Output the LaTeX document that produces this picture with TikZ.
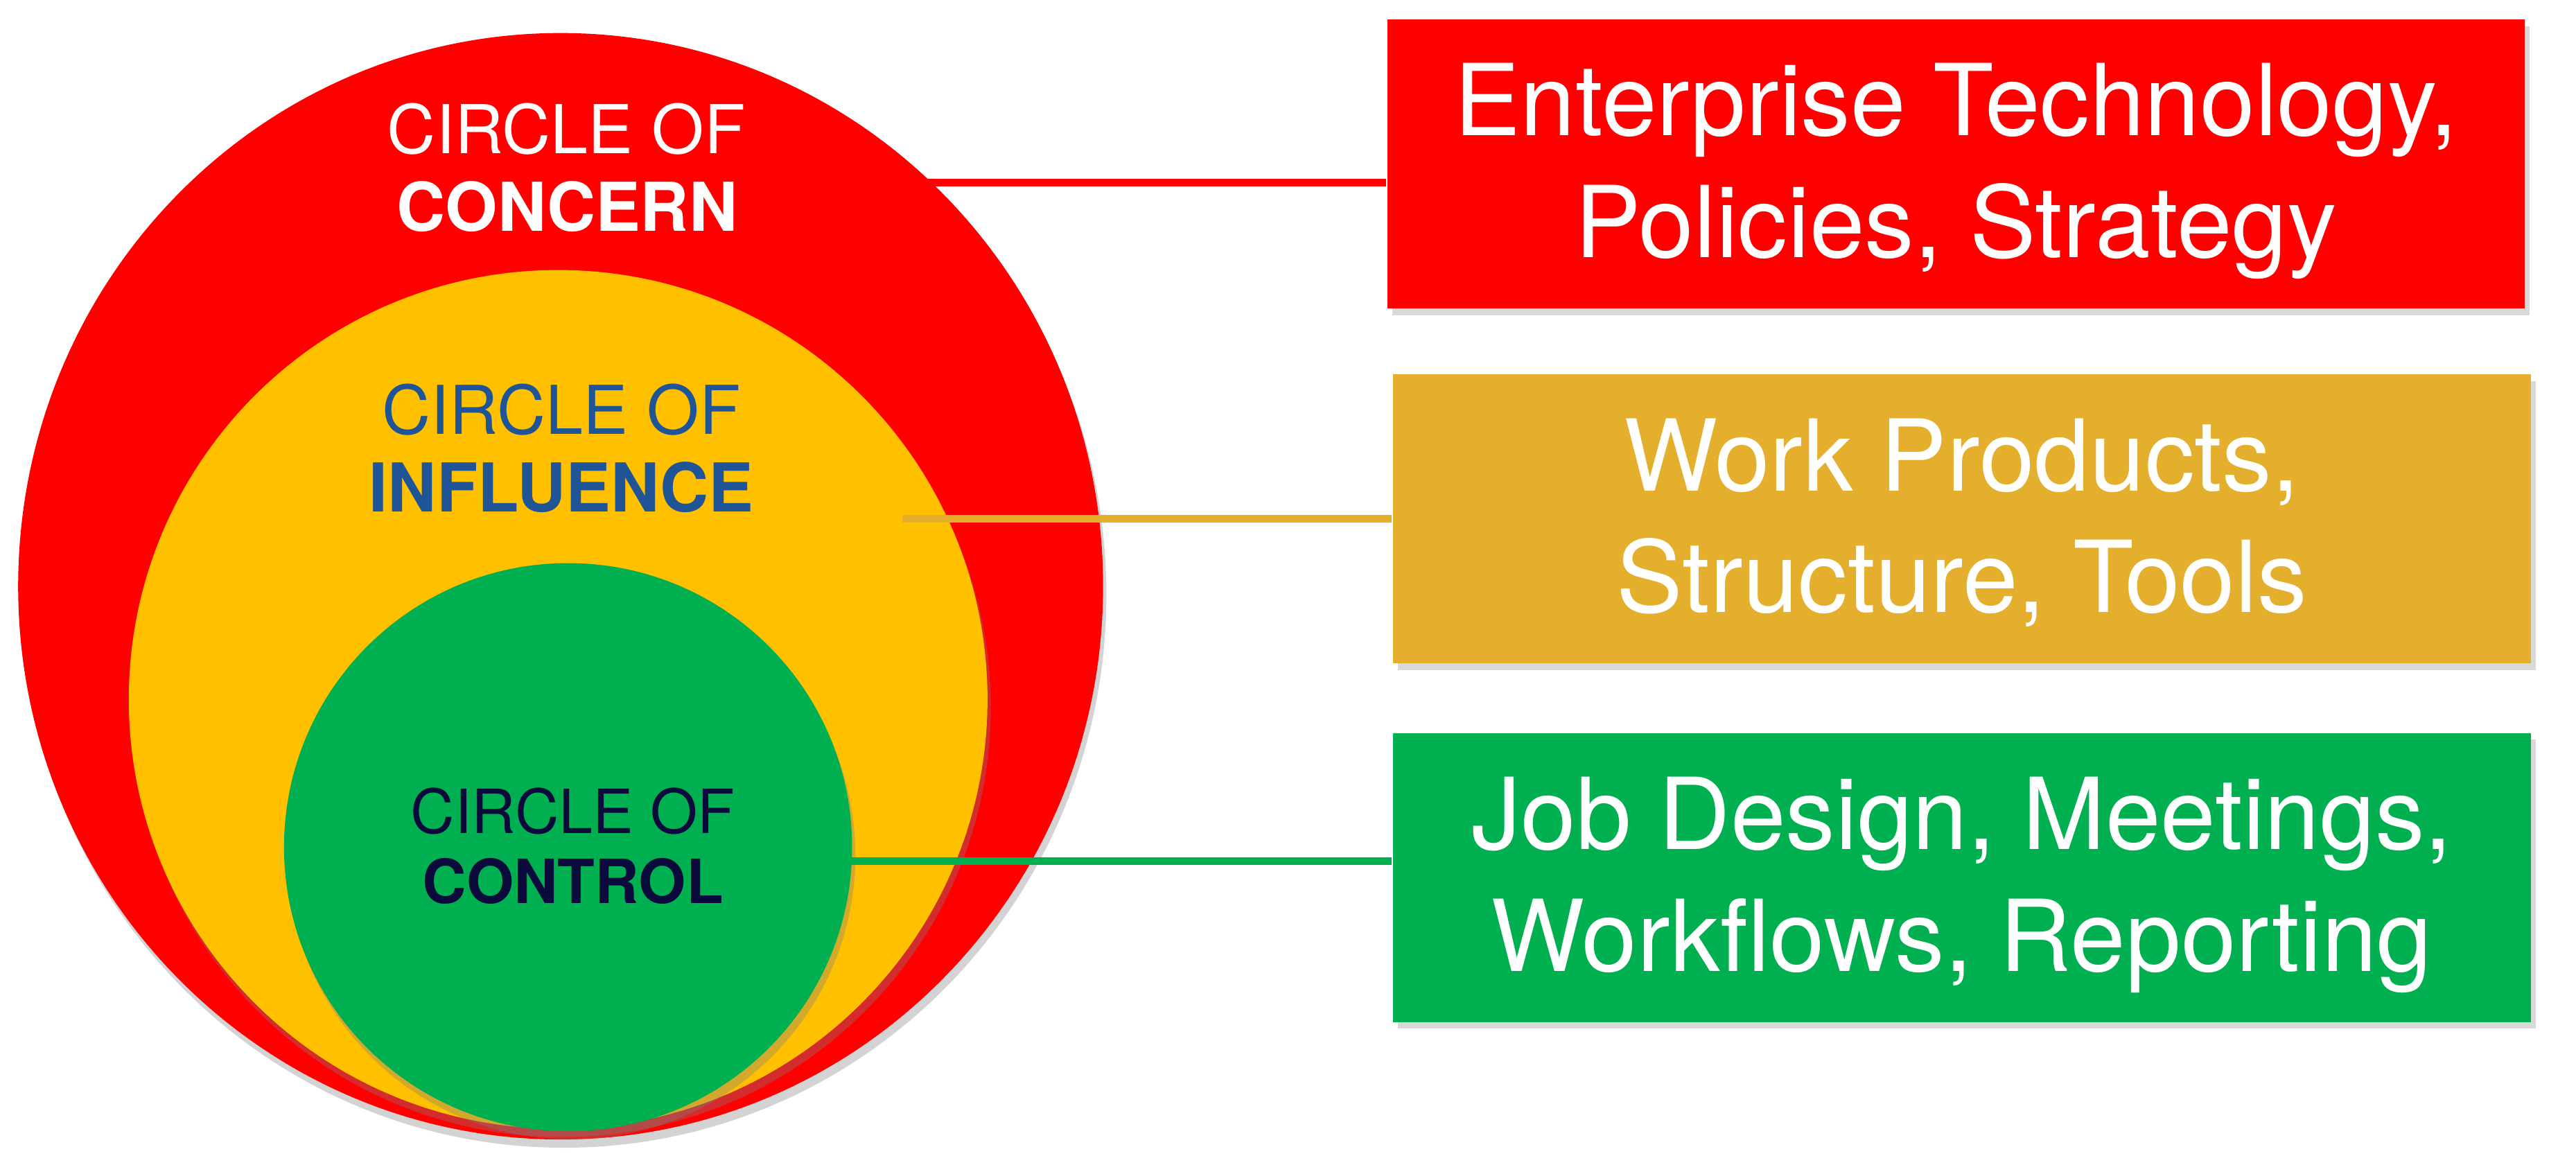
\documentclass[tikz,border=0pt]{standalone}
\usepackage{fontspec}
\setmainfont{TeX Gyre Heros}
\usetikzlibrary{shadows}
\definecolor{concernred}{RGB}{255,0,0}
\definecolor{influenceyellow}{RGB}{255,192,0}
\definecolor{controlgreen}{RGB}{0,176,80}
\definecolor{productgold}{RGB}{229,175,46}
\definecolor{influenceblue}{RGB}{31,85,150}
\definecolor{controlnavy}{RGB}{10,10,60}
\tikzset{
  ring/.style={drop shadow={shadow xshift=0.02cm, shadow yshift=-0.05cm, opacity=0.35}},
  areabox/.style={minimum width=6.89cm, minimum height=1.75cm, inner sep=0pt,
                  text=white, align=center, text depth=1.2pt,
                  font=\fontsize{17.1}{21}\selectfont,
                  drop shadow={shadow xshift=0.03cm, shadow yshift=-0.04cm, opacity=0.3}},
  ringlabel/.style={anchor=base, inner sep=0pt, font=\fontsize{11.6}{13}\selectfont},
  link/.style={line width=1.3pt}
}
\begin{document}
\begin{tikzpicture}
      \useasboundingbox (0, 0) rectangle (15.6, 7.0);
      \fill [concernred, ring] (3.395, 3.45) ellipse [x radius=3.285, y radius=3.35];
      \fill [influenceyellow, ring] (3.38, 2.765) circle [radius=2.60];
      \fill [controlgreen, ring] (3.44, 1.87) circle [radius=1.72];
      \node (concern1) [ringlabel, white] at (3.43, 6.07) {CIRCLE OF};
      \node (concern2) [ringlabel, white] at (3.435, 5.60) {\bfseries CONCERN};
      \node (influence1) [ringlabel, influenceblue] at (3.40, 4.37) {CIRCLE OF};
      \node (influence2) [ringlabel, influenceblue] at (3.40, 3.90) {\bfseries INFLUENCE};
      \node (control1) [ringlabel, controlnavy, font=\fontsize{10.5}{12}\selectfont] at (3.47, 1.955) {CIRCLE OF};
      \node (control2) [ringlabel, controlnavy, font=\fontsize{10.5}{12}\selectfont] at (3.47, 1.53) {\bfseries CONTROL};
      \node (concernbox) [areabox, fill=concernred] at (11.845, 6.0065)
            {Enterprise Technology,\\Policies, Strategy};
      \node (influencebox) [areabox, fill=productgold] at (11.88, 3.8575)
            {Work Products,\\Structure, Tools};
      \node (controlbox) [areabox, fill=controlgreen] at (11.88, 1.685)
            {Job Design, Meetings,\\Workflows, Reporting};
      \coordinate (concernpt) at (5.60, 5.893);
      \coordinate (influencept) at (5.465, 3.86);
      \coordinate (controlpt) at (5.15, 1.786);
      \draw [link, concernred] (concernpt) -- (concernpt -| concernbox.west);
      \draw [link, productgold] (influencept) -- (influencept -| influencebox.west);
      \draw [link, controlgreen] (controlpt) -- (controlpt -| controlbox.west);
\end{tikzpicture}
\end{document}
